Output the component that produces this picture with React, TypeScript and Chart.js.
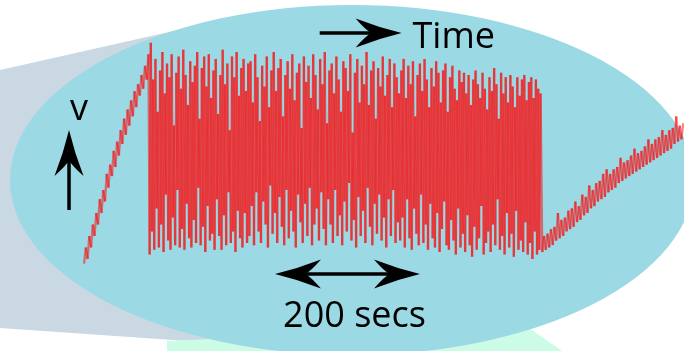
import { useEffect, useRef } from "react";
import { Chart, registerables } from "chart.js";

Chart.register(...registerables);

// ---- data (time in seconds, membrane voltage in mV) ----
const RAMP_SECONDS = 2.4; // sample interval outside the burst
const BURST_SECONDS = 1.6; // sample interval inside the burst

// slow depolarising ramp before the burst
const rampUp = [
  -72, -65, -70, -60, -65, -55, -60, -50, -55, -44, -50, -40, -45, -33, -39, -29, -34, -23, -30,
  -19, -25, -14, -20, -9, -16, -5, -12, -1, -8, 3, -4, 6, 1, 10, 4, 14, 8, 19,
];

// burst of spikes: trough / peak pairs
const spikeTroughs = [
  -68, -58, -66, -48, -65, -55, -67, -42, -62, -66,
  -52, -64, -40, -65, -57, -66, -46, -61, -65, -53,
  -63, -39, -64, -56, -67, -47, -62, -59, -66, -44,
  -60, -66, -51, -64, -41, -63, -58, -67, -49, -61,
  -65, -50, -63,
  -60, -47, -64, -41, -58, -63, -45, -55, -65, -38,
  -59, -50, -63, -43, -56, -64, -40, -61, -49, -58,
  -65, -42, -54, -63, -46, -60, -39, -64, -55, -48,
  -62, -41, -57, -64, -44, -55, -63, -40, -60, -51,
  -64, -45, -58, -37, -62, -53, -65, -43, -60, -49,
  -63, -39, -56, -64, -46, -59, -42, -62, -52, -65,
  -44, -60, -40, -63, -54,
  -62, -52, -65, -44, -61, -66, -48, -59, -64, -42,
  -63, -55, -66, -46, -61, -65, -50, -67, -57, -45,
  -64, -66, -53, -62, -68, -48, -65, -59, -67, -51,
  -64, -69, -56, -66, -61, -47, -68, -63, -58, -67,
  -55, -64, -44, -66, -60, -68, -50, -65, -59, -69,
  -49, -66, -62, -67, -54, -68, -63, -70, -58, -68,
  -66,
];
const spikePeaks = [
  24, 8, 17, -6, 12, 20, 2, 15, 9, 19,
  -12, 11, 18, 4, 21, 10, -3, 16, 7, 14,
  20, -9, 13, 18, 5, 19, 0, 12, 17, -7,
  10, 21, 6, 15, -14, 18, 9, 20, 1, 13,
  17, 3, 15,
  16, -2, 19, 9, -10, 14, 5, 18, -4, 12,
  20, 3, 13, 17, -8, 10, 16, 4, 19, -1,
  11, 15, -13, 18, 7, 14, 0, 19, 10, -5,
  17, 6, 20, -11, 12, 15, 2, 18, 8, -6,
  16, 13, 3, 19, -15, 11, 17, -2, 14, 6,
  20, -3, 12, 16, -9, 13, 5, 18, 1, 10,
  17, -4, 15, 9, 2,
  12, 17, 0, 14, 6, 16, -8, 10, 15, 3,
  17, 8, -4, 13, 5, 16, 11, -2, 12, 15,
  -6, 9, 14, 4, -1, 12, 7, 11, 2, 10,
  -3, 8, 12, 6, 0, 11, 4, -5, 9, 3,
  13, 6, -9, 11, 2, 9, -2, 10, 5, -4,
  9, 1, 8, 10, -1, 7, 9, 0, 8, 4,
  2,
];

// slow recovery after the burst
const recovery = [
  -67, -60, -66, -59, -65, -57, -64, -56, -62, -50, -61, -53, -60, -52, -58, -49, -57, -48, -56, -45,
  -54, -47, -53, -42, -51, -43, -50, -38, -48, -40, -47, -37, -45, -36, -44, -33, -43, -31, -41, -33,
  -40, -31, -39, -30, -37, -26, -36, -28, -35, -27, -34, -25, -33, -22, -32, -24, -31, -23, -30, -21,
  -29, -18, -28, -20, -27, -18, -26, -17, -25, -14, -24, -16, -23, -14, -22, -13, -20, -8, -19, -12,
  -18, -11,
];

const X_MIN = -116;
const X_MAX = 827.5;
const Y_MIN = -110;
const Y_MAX = 42.6;

// annotation anchors in data units
const TIME_ARROW = { from: 325, to: 438, v: 28.3, labelT: 453, labelV: 21.7, text: "Time" };
const SCALE_BAR = { from: 263.3, to: 463.3, v: -76.5, labelT: 373, labelV: -99.6, text: "200 secs" };
const V_ARROW = { t: -20.8, from: -48.7, to: -13.9, labelT: -7, labelV: -9.6, text: "v" };

function buildTrace() {
  const pts: { x: number; y: number }[] = [];
  let t = 0;
  rampUp.forEach((v) => {
    pts.push({ x: t, y: v });
    t += RAMP_SECONDS;
  });
  t -= RAMP_SECONDS - BURST_SECONDS;
  for (let i = 0; i < spikeTroughs.length; i++) {
    pts.push({ x: t, y: spikeTroughs[i] });
    t += BURST_SECONDS;
    pts.push({ x: t, y: spikePeaks[i] });
    t += BURST_SECONDS;
  }
  t += RAMP_SECONDS - BURST_SECONDS;
  recovery.forEach((v) => {
    pts.push({ x: t, y: v });
    t += RAMP_SECONDS;
  });
  return pts;
}

function arrowHead(ctx: CanvasRenderingContext2D, tx: number, ty: number, dx: number, dy: number, L: number, W: number) {
  const px = -dy;
  const py = dx;
  const back = (f: number, s: number) => [tx - dx * L * f + px * W * s, ty - dy * L * f + py * W * s];
  const c1 = back(1, 0.5);
  const c2 = back(1, -0.5);
  const n = back(0.66, 0);
  const s1 = back(0.5, 0.19);
  const s2 = back(0.5, -0.19);
  const b1 = back(0.78, 0.1);
  const b2 = back(0.78, -0.1);
  ctx.beginPath();
  ctx.moveTo(tx, ty);
  ctx.quadraticCurveTo(s1[0], s1[1], c1[0], c1[1]);
  ctx.quadraticCurveTo(b1[0], b1[1], n[0], n[1]);
  ctx.quadraticCurveTo(b2[0], b2[1], c2[0], c2[1]);
  ctx.quadraticCurveTo(s2[0], s2[1], tx, ty);
  ctx.closePath();
  ctx.fill();
}

function arrow(ctx: CanvasRenderingContext2D, x1: number, y1: number, x2: number, y2: number, both: boolean) {
  const len = Math.hypot(x2 - x1, y2 - y1);
  const dx = (x2 - x1) / len;
  const dy = (y2 - y1) / len;
  const L = 46;
  const W = 29;
  ctx.lineWidth = 3.5;
  ctx.beginPath();
  const sx = both ? x1 + dx * L * 0.6 : x1;
  const sy = both ? y1 + dy * L * 0.6 : y1;
  ctx.moveTo(sx, sy);
  ctx.lineTo(x2 - dx * L * 0.6, y2 - dy * L * 0.6);
  ctx.stroke();
  arrowHead(ctx, x2, y2, dx, dy, L, W);
  if (both) arrowHead(ctx, x1, y1, -dx, -dy, L, W);
}

const decorPlugin = {
  id: "decor",
  beforeDraw(chart: any) {
    const { ctx, width, height } = chart;
    ctx.save();
    ctx.fillStyle = "#ffffff";
    ctx.fillRect(0, 0, width, height);
    // grey panel on the left
    ctx.fillStyle = "#c9d8e3";
    ctx.beginPath();
    ctx.moveTo(0, 70);
    ctx.lineTo(200, 25);
    ctx.lineTo(260, 346);
    ctx.lineTo(0, 328);
    ctx.closePath();
    ctx.fill();
    // mint panel at the bottom
    ctx.fillStyle = "#cdfce6";
    ctx.beginPath();
    ctx.moveTo(167, 341);
    ctx.lineTo(525, 325);
    ctx.lineTo(562, height);
    ctx.lineTo(167, height);
    ctx.closePath();
    ctx.fill();
    // blue ellipse
    ctx.fillStyle = "#9bd9e5";
    ctx.beginPath();
    ctx.ellipse(352, 180, 342, 175, 0, 0, Math.PI * 2);
    ctx.fill();
    ctx.restore();
  },
  afterDatasetsDraw(chart: any) {
    const { ctx } = chart;
    const xs = chart.scales.x;
    const ys = chart.scales.y;
    ctx.save();
    ctx.fillStyle = "#000000";
    ctx.strokeStyle = "#000000";
    arrow(ctx, xs.getPixelForValue(TIME_ARROW.from), ys.getPixelForValue(TIME_ARROW.v),
      xs.getPixelForValue(TIME_ARROW.to), ys.getPixelForValue(TIME_ARROW.v), false);
    arrow(ctx, xs.getPixelForValue(SCALE_BAR.from), ys.getPixelForValue(SCALE_BAR.v),
      xs.getPixelForValue(SCALE_BAR.to), ys.getPixelForValue(SCALE_BAR.v), true);
    arrow(ctx, xs.getPixelForValue(V_ARROW.t), ys.getPixelForValue(V_ARROW.from),
      xs.getPixelForValue(V_ARROW.t), ys.getPixelForValue(V_ARROW.to), false);

    ctx.font = '36px "Open Sans", "Noto Sans", sans-serif';
    ctx.textBaseline = "alphabetic";
    ctx.textAlign = "left";
    ctx.fillText(TIME_ARROW.text, xs.getPixelForValue(TIME_ARROW.labelT), ys.getPixelForValue(TIME_ARROW.labelV));
    ctx.textAlign = "center";
    ctx.fillText(SCALE_BAR.text, xs.getPixelForValue(SCALE_BAR.labelT), ys.getPixelForValue(SCALE_BAR.labelV));
    ctx.fillText(V_ARROW.text, xs.getPixelForValue(V_ARROW.labelT), ys.getPixelForValue(V_ARROW.labelV));
    ctx.restore();
  },
};

export default function App() {
  const canvasRef = useRef<HTMLCanvasElement | null>(null);

  useEffect(() => {
    const canvas = canvasRef.current;
    if (!canvas) return;
    const chart = new Chart(canvas, {
      type: "line",
      data: {
        datasets: [
          {
            data: buildTrace(),
            borderColor: "rgba(255,0,0,0.5)",
            borderWidth: 2.3,
            pointRadius: 0,
            tension: 0,
            fill: false,
            segment: {
              borderColor: (c: any) => (c.p0DataIndex % 2 === 0 ? "rgba(255,0,0,0.5)" : "rgba(255,0,1,0.5)"),
            },
          },
        ],
      },
      options: {
        animation: false,
        responsive: false,
        devicePixelRatio: 1,
        layout: { padding: 0 },
        parsing: false,
        scales: {
          x: { type: "linear", min: X_MIN, max: X_MAX, display: false },
          y: { type: "linear", min: Y_MIN, max: Y_MAX, display: false },
        },
        plugins: { legend: { display: false }, tooltip: { enabled: false } },
      },
      plugins: [decorPlugin],
    });
    return () => chart.destroy();
  }, []);

  return (
    <div style={{ position: "absolute", left: 0, top: 0, width: 684, height: 351 }}>
      <canvas ref={canvasRef} width={684} height={351} />
    </div>
  );
}
